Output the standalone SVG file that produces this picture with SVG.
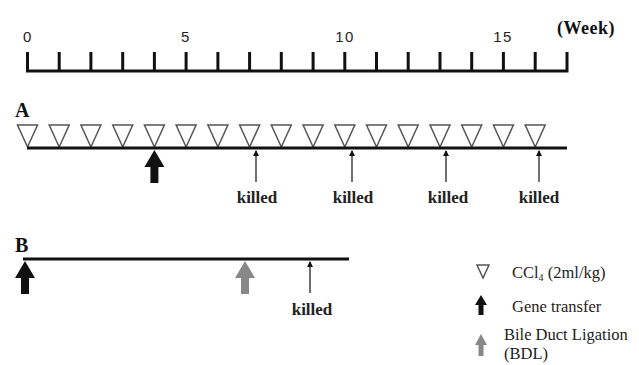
<svg xmlns="http://www.w3.org/2000/svg" width="639" height="365" viewBox="0 0 639 365">
<defs>
<style>
.axis{stroke:#111;stroke-width:3;fill:none;stroke-linejoin:miter}
.tl{stroke:#111;stroke-width:3.2;fill:none}
.tri{fill:#fff;stroke:#555;stroke-width:1.5}
.thin{stroke:#111;stroke-width:1.2;fill:none}
.num{font-family:"Liberation Sans",Arial,sans-serif;font-size:15px;fill:#222;text-anchor:middle;letter-spacing:1.5px}
.lab{font-family:"Liberation Serif","Times New Roman",serif;font-weight:bold;fill:#111}
.kill{font-family:"Liberation Serif","Times New Roman",serif;font-weight:bold;font-size:17px;fill:#222;text-anchor:middle}
.leg{font-family:"Liberation Serif","Times New Roman",serif;font-size:16.5px;fill:#222}
</style>
<marker id="ah" markerWidth="6" markerHeight="6" refX="5" refY="3" orient="auto" markerUnits="userSpaceOnUse">
<path d="M0,0 L6,3 L0,6 Z" fill="#111"/>
</marker>
<path id="bigArrow" d="M0,0 L10,17 L4,17 L4,33 L-4,33 L-4,17 L-10,17 Z"/>
<polygon id="tri" points="-10,0 10,0 0,22"/>
</defs>

<g id="ruler">
<path class="axis" d="M27.5,52 V71 H567 V52 M59.2,52 V71 M90.9,52 V71 M122.7,52 V71 M154.4,52 V71 M186.1,52 V71 M217.9,52 V71 M249.6,52 V71 M281.3,52 V71 M313.1,52 V71 M344.8,52 V71 M376.5,52 V71 M408.2,52 V71 M440,52 V71 M471.7,52 V71 M503.4,52 V71 M535.2,52 V71"/>
<text class="num" x="28" y="42">0</text>
<text class="num" x="186" y="42">5</text>
<text class="num" x="345" y="42">10</text>
<text class="num" x="503" y="42">15</text>
<text class="lab" x="557" y="34" font-size="18" letter-spacing="0.5">(Week)</text>
</g>

<g id="panelA">
<text class="lab" x="15" y="117" font-size="20">A</text>
<g id="ccl4-injections">
<use href="#tri" class="tri" x="27.5" y="125"/>
<use href="#tri" class="tri" x="59.2" y="125"/>
<use href="#tri" class="tri" x="90.9" y="125"/>
<use href="#tri" class="tri" x="122.7" y="125"/>
<use href="#tri" class="tri" x="154.4" y="125"/>
<use href="#tri" class="tri" x="186.1" y="125"/>
<use href="#tri" class="tri" x="217.9" y="125"/>
<use href="#tri" class="tri" x="249.6" y="125"/>
<use href="#tri" class="tri" x="281.3" y="125"/>
<use href="#tri" class="tri" x="313.1" y="125"/>
<use href="#tri" class="tri" x="344.8" y="125"/>
<use href="#tri" class="tri" x="376.5" y="125"/>
<use href="#tri" class="tri" x="408.2" y="125"/>
<use href="#tri" class="tri" x="440" y="125"/>
<use href="#tri" class="tri" x="471.7" y="125"/>
<use href="#tri" class="tri" x="503.4" y="125"/>
<use href="#tri" class="tri" x="535.2" y="125"/>
</g>
<line class="tl" x1="27" y1="148" x2="567" y2="148"/>
<use href="#bigArrow" x="154.4" y="150" fill="#111"/>
<g id="killedA">
<line class="thin" x1="256" y1="182" x2="256" y2="151" marker-end="url(#ah)"/>
<line class="thin" x1="352" y1="182" x2="352" y2="151" marker-end="url(#ah)"/>
<line class="thin" x1="446" y1="182" x2="446" y2="151" marker-end="url(#ah)"/>
<line class="thin" x1="539" y1="182" x2="539" y2="151" marker-end="url(#ah)"/>
<text class="kill" x="257" y="203">killed</text>
<text class="kill" x="353" y="203">killed</text>
<text class="kill" x="448" y="203">killed</text>
<text class="kill" x="539" y="203">killed</text>
</g>
</g>

<g id="panelB">
<text class="lab" x="15" y="252" font-size="20">B</text>
<line class="tl" x1="23" y1="259" x2="349" y2="259"/>
<use href="#bigArrow" x="25" y="261" fill="#111"/>
<use href="#bigArrow" x="245" y="261" fill="#888"/>
<line class="thin" x1="310" y1="293" x2="310" y2="262" marker-end="url(#ah)"/>
<text class="kill" x="312" y="315">killed</text>
</g>

<g id="legend">
<polygon class="tri" points="477,265 489,265 483,278" stroke-width="1.2"/>
<text class="leg" x="512" y="278">CCl<tspan font-size="10" dy="3">4</tspan><tspan dy="-3"> (2ml/kg)</tspan></text>
<path d="M481,295 L487,305 L483.5,305 L483.5,315 L478.5,315 L478.5,305 L475,305 Z" fill="#111"/>
<text class="leg" x="512" y="312">Gene transfer</text>
<path d="M481,334 L487,345 L483.5,345 L483.5,356 L478.5,356 L478.5,345 L475,345 Z" fill="#888"/>
<text class="leg" x="504" y="340">Bile Duct Ligation</text>
<text class="leg" x="504" y="359">(BDL)</text>
</g>
</svg>
